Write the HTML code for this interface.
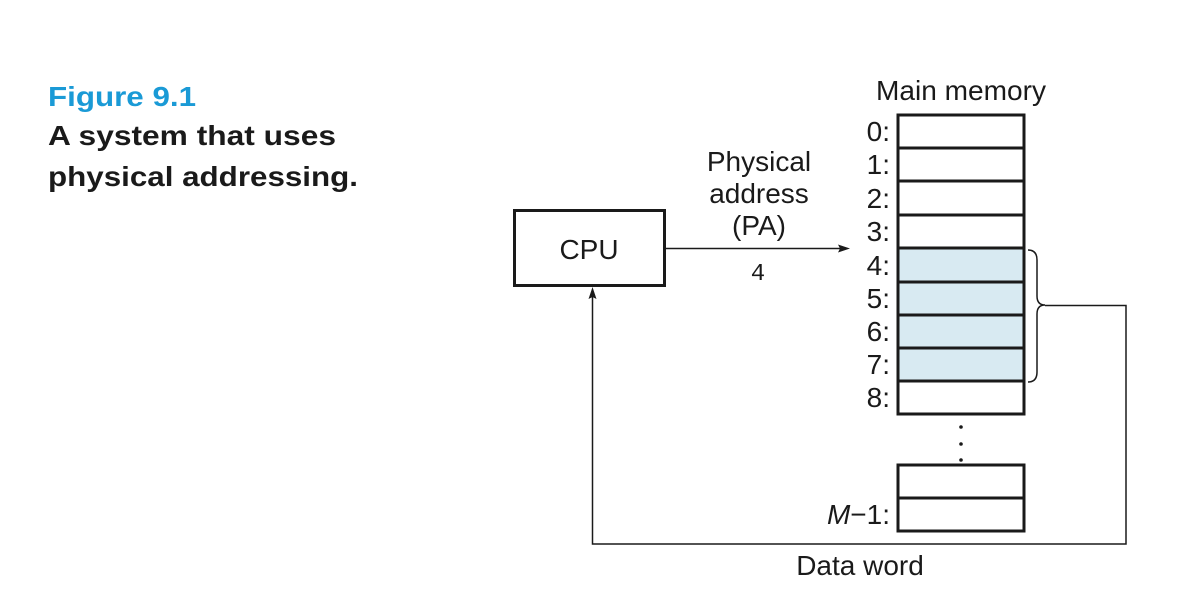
<!DOCTYPE html>
<html><head><meta charset="utf-8"><style>
html,body{margin:0;padding:0;background:#fff;}
svg{display:block;}
.s{font-family:"Liberation Sans",Arial,sans-serif;}
</style></head><body>
<svg width="1192" height="614" viewBox="0 0 1192 614" xmlns="http://www.w3.org/2000/svg">
<text class="s" x="48" y="106" font-size="28" font-weight="bold" fill="#1a9ad6" textLength="148" lengthAdjust="spacingAndGlyphs">Figure 9.1</text>
<text class="s" x="48" y="145" font-size="28" font-weight="bold" fill="#1a1a1a" textLength="288" lengthAdjust="spacingAndGlyphs">A system that uses</text>
<text class="s" x="48" y="186" font-size="28" font-weight="bold" fill="#1a1a1a" textLength="310" lengthAdjust="spacingAndGlyphs">physical addressing.</text>

<text class="s" x="961" y="100" font-size="28" text-anchor="middle" fill="#1a1a1a" textLength="170" lengthAdjust="spacingAndGlyphs">Main memory</text>

<g fill="#fff" stroke="#1a1a1a" stroke-width="3">
<rect x="898" y="115" width="126" height="33"/>
<rect x="898" y="148" width="126" height="33"/>
<rect x="898" y="181" width="126" height="34"/>
<rect x="898" y="215" width="126" height="33"/>
<rect x="898" y="248" width="126" height="34" fill="#d8eaf2"/>
<rect x="898" y="282" width="126" height="33" fill="#d8eaf2"/>
<rect x="898" y="315" width="126" height="33" fill="#d8eaf2"/>
<rect x="898" y="348" width="126" height="33" fill="#d8eaf2"/>
<rect x="898" y="381" width="126" height="33"/>
<rect x="898" y="465" width="126" height="33"/>
<rect x="898" y="498" width="126" height="33"/>
</g>
<g class="s" font-size="28" fill="#1a1a1a" text-anchor="end">
<text x="890" y="141">0:</text>
<text x="890" y="174">1:</text>
<text x="890" y="208">2:</text>
<text x="890" y="241">3:</text>
<text x="890" y="275">4:</text>
<text x="890" y="308">5:</text>
<text x="890" y="341">6:</text>
<text x="890" y="374">7:</text>
<text x="890" y="407">8:</text>
<text x="890" y="524"><tspan font-style="italic">M</tspan>−1:</text>
</g>
<g fill="#1a1a1a">
<circle cx="961" cy="427" r="1.8"/>
<circle cx="961" cy="444" r="1.8"/>
<circle cx="961" cy="460" r="1.8"/>
</g>

<rect x="514.5" y="210.5" width="150" height="75" fill="#fff" stroke="#1a1a1a" stroke-width="3"/>
<text class="s" x="589" y="259" font-size="28" text-anchor="middle" fill="#1a1a1a">CPU</text>

<g class="s" font-size="28" fill="#1a1a1a" text-anchor="middle">
<text x="759" y="171">Physical</text>
<text x="759" y="203">address</text>
<text x="759" y="235">(PA)</text>
</g>
<text x="758" y="280" font-size="24" font-family="Liberation Mono, monospace" text-anchor="middle" fill="#1a1a1a">4</text>

<line x1="665" y1="248.5" x2="842" y2="248.5" stroke="#1a1a1a" stroke-width="1.5"/>
<path d="M850,248.5 L838,244.5 L840,248.5 L838,252.5 Z" fill="#1a1a1a"/>

<path d="M1028,250 Q1037,250 1037,260 L1037,296 Q1037,305 1045,305 Q1037,305 1037,314 L1037,372 Q1037,382 1028,382" fill="none" stroke="#1a1a1a" stroke-width="1.5"/>
<polyline points="1045,305.5 1126,305.5 1126,544 592.5,544 592.5,296" fill="none" stroke="#1a1a1a" stroke-width="1.5"/>
<path d="M592.5,287 L588.5,299 L592.5,297 L596.5,299 Z" fill="#1a1a1a"/>

<text class="s" x="860" y="575" font-size="28" text-anchor="middle" fill="#1a1a1a">Data word</text>
</svg>
</body></html>
